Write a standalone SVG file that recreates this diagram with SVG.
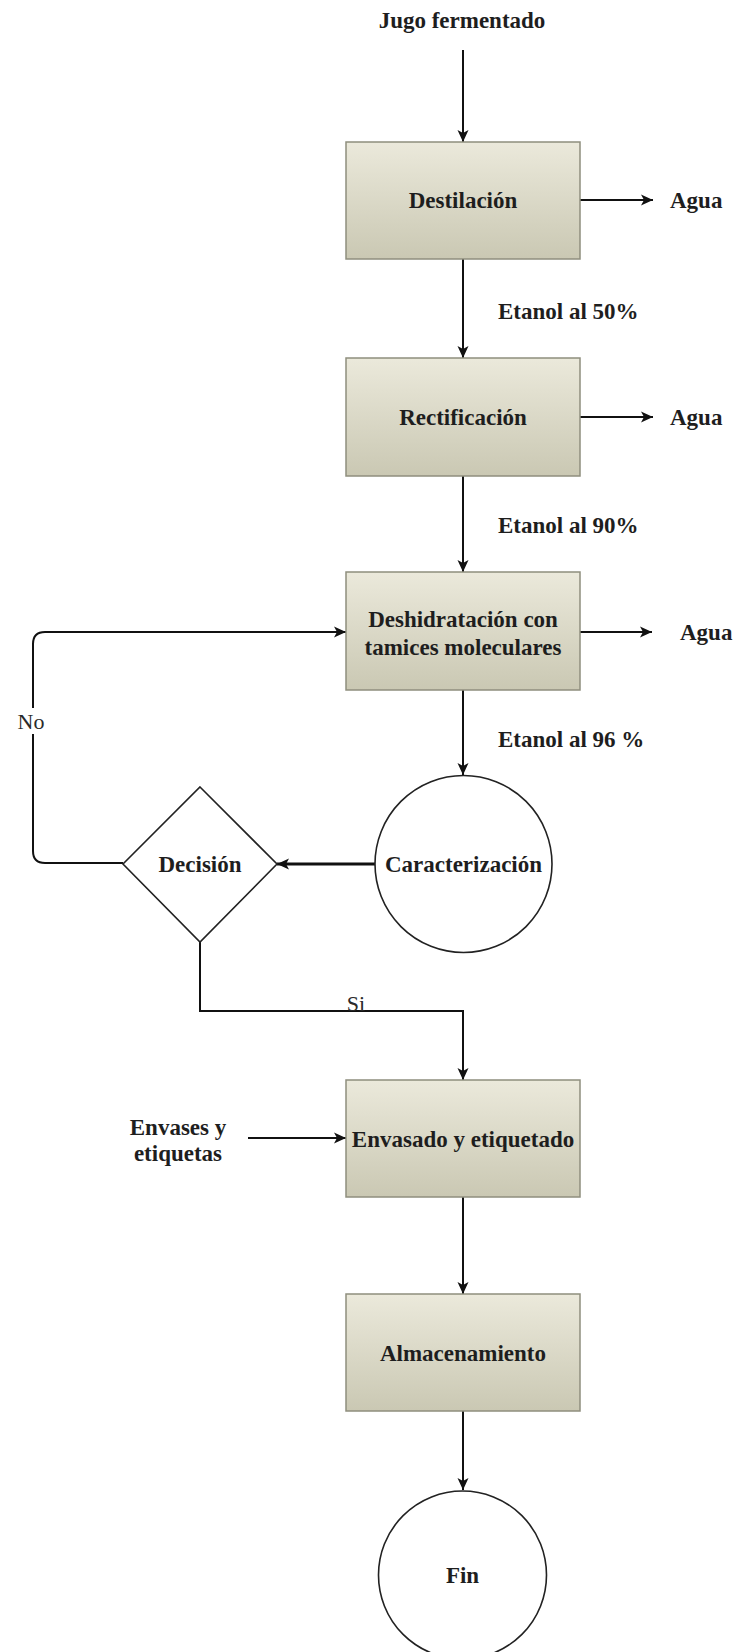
<svg xmlns="http://www.w3.org/2000/svg" width="736" height="1652" viewBox="0 0 736 1652">
<defs>
<linearGradient id="boxg" x1="0" y1="0" x2="0" y2="1">
<stop offset="0" stop-color="#ebe9db"/>
<stop offset="1" stop-color="#cac8b3"/>
</linearGradient>
<marker id="ah" viewBox="0 0 12 12" refX="12" refY="6" markerWidth="12" markerHeight="12" markerUnits="userSpaceOnUse" orient="auto">
<path d="M0,0.5 L12,6 L0,11.5 L3,6 Z" fill="#111"/>
</marker>
</defs>
<style>
.box{fill:url(#boxg);stroke:#8f8e7e;stroke-width:1.5}
.shape{fill:#fff;stroke:#222;stroke-width:1.6}
.t{font-family:"Liberation Serif","Times New Roman",serif;font-size:23px;font-weight:bold;fill:#1e1e1e}
.r{font-family:"Liberation Serif","Times New Roman",serif;font-size:22px;fill:#2a2a2a}
.c{text-anchor:middle;dominant-baseline:central}
.ln{fill:none;stroke:#111;stroke-width:2;marker-end:url(#ah)}
</style>

<g id="connectors">
<path class="ln" d="M463,50 L463,142"/>
<path class="ln" d="M580,200 L653,200"/>
<path class="ln" d="M463,259 L463,358"/>
<path class="ln" d="M580,417 L653,417"/>
<path class="ln" d="M463,476 L463,572"/>
<path class="ln" d="M580,632 L652,632"/>
<path class="ln" d="M463,690 L463,775"/>
<path class="ln" d="M375,864 L277,864" style="stroke-width:3"/>
<path class="ln" d="M123,863 L45,863 Q33,863 33,851 L33,644 Q33,632 45,632 L346,632"/>
<path class="ln" d="M200,942 L200,1011 L463,1011 L463,1080"/>
<path class="ln" d="M248,1138 L346,1138"/>
<path class="ln" d="M463,1197 L463,1294"/>
<path class="ln" d="M463,1411 L463,1490"/>
<rect x="18" y="708" width="30" height="26" fill="#fff"/>
<text class="r c" x="31" y="721">No</text>
<text class="r c" x="356" y="1003">Si</text>
<text class="t" x="498" y="319">Etanol al 50%</text>
<text class="t" x="498" y="533">Etanol al 90%</text>
<text class="t" x="498" y="747">Etanol al 96 %</text>
</g>

<g id="input-jugo">
<text class="t c" x="462" y="20">Jugo fermentado</text>
</g>

<g id="destilacion">
<rect class="box" x="346" y="142" width="234" height="117"/>
<text class="t c" x="463" y="200">Destilación</text>
</g>
<g id="agua1"><text class="t" x="670" y="208">Agua</text></g>

<g id="rectificacion">
<rect class="box" x="346" y="358" width="234" height="118"/>
<text class="t c" x="463" y="417">Rectificación</text>
</g>
<g id="agua2"><text class="t" x="670" y="425">Agua</text></g>

<g id="deshidratacion">
<rect class="box" x="346" y="572" width="234" height="118"/>
<text class="t c" x="463" y="619">Deshidratación con</text>
<text class="t c" x="463" y="647">tamices moleculares</text>
</g>
<g id="agua3"><text class="t" x="680" y="640">Agua</text></g>

<g id="caracterizacion">
<circle class="shape" cx="463.5" cy="864" r="88.5"/>
<text class="t c" x="463.5" y="864">Caracterización</text>
</g>

<g id="decision">
<polygon class="shape" points="200,787 277,864 200,942 123,864"/>
<text class="t c" x="200" y="864">Decisión</text>
</g>

<g id="envases">
<text class="t c" x="178" y="1127">Envases y</text>
<text class="t c" x="178" y="1153">etiquetas</text>
</g>

<g id="envasado">
<rect class="box" x="346" y="1080" width="234" height="117"/>
<text class="t c" x="463" y="1139">Envasado y etiquetado</text>
</g>

<g id="almacenamiento">
<rect class="box" x="346" y="1294" width="234" height="117"/>
<text class="t c" x="463" y="1353">Almacenamiento</text>
</g>

<g id="fin">
<circle class="shape" cx="462.5" cy="1575" r="84"/>
<text class="t c" x="462.5" y="1575">Fin</text>
</g>
</svg>
